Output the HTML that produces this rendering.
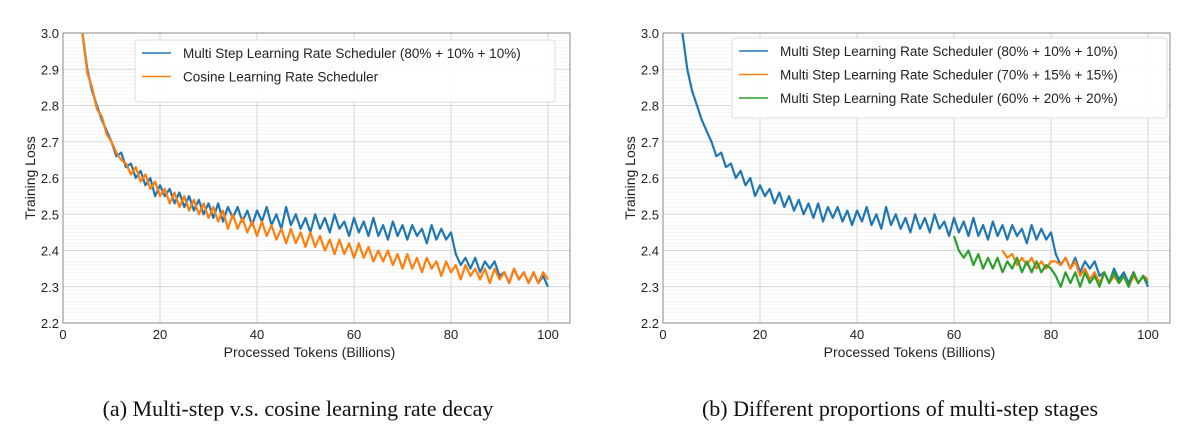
<!DOCTYPE html>
<html><head><meta charset="utf-8"><style>
body{margin:0;background:#fff;width:1200px;height:446px;overflow:hidden}
svg{display:block}
text{font-family:"Liberation Sans",sans-serif;fill:#222}
.cap{font-family:"Liberation Serif",serif;font-size:22px;fill:#111}
</style></head><body>
<svg id="s" width="1200" height="446"></svg>
<script>
const xTicks=[0,20,40,60,80,100];
const yTicks=[2.2,2.3,2.4,2.5,2.6,2.7,2.8,2.9,3.0];
const tokensA=[];for(let t=4;t<=100;t++)tokensA.push(t);
const multi80=[3.00,2.90,2.84,2.80,2.76,2.73,2.70,2.66,2.67,2.63,2.64,2.60,2.62,2.58,2.60,2.55,2.58,2.55,2.57,2.53,2.56,2.52,2.55,2.51,2.54,2.50,2.53,2.49,2.53,2.48,2.52,2.49,2.52,2.48,2.51,2.47,2.51,2.48,2.52,2.47,2.50,2.46,2.52,2.47,2.50,2.46,2.49,2.45,2.50,2.46,2.49,2.45,2.50,2.46,2.48,2.44,2.49,2.45,2.48,2.44,2.49,2.44,2.47,2.43,2.48,2.44,2.47,2.43,2.47,2.44,2.46,2.42,2.47,2.43,2.46,2.43,2.45,2.39,2.36,2.38,2.35,2.38,2.34,2.37,2.35,2.37,2.33,2.34,2.31,2.35,2.32,2.34,2.31,2.34,2.31,2.33,2.30];
const cosine=[3.00,2.89,2.85,2.79,2.77,2.72,2.70,2.67,2.65,2.64,2.61,2.63,2.59,2.61,2.57,2.59,2.55,2.57,2.53,2.56,2.52,2.55,2.51,2.54,2.50,2.53,2.49,2.52,2.48,2.51,2.46,2.50,2.46,2.49,2.45,2.48,2.44,2.48,2.44,2.47,2.43,2.46,2.42,2.46,2.42,2.45,2.41,2.45,2.41,2.44,2.40,2.43,2.39,2.43,2.39,2.42,2.38,2.42,2.38,2.41,2.37,2.40,2.37,2.40,2.36,2.39,2.35,2.39,2.35,2.38,2.34,2.38,2.35,2.37,2.33,2.37,2.34,2.36,2.32,2.36,2.33,2.35,2.32,2.35,2.31,2.35,2.32,2.34,2.31,2.35,2.32,2.34,2.31,2.34,2.31,2.34,2.32];
const tokens70=[];for(let t=70;t<=100;t++)tokens70.push(t);
const multi70=[2.40,2.38,2.39,2.36,2.38,2.36,2.38,2.35,2.37,2.35,2.37,2.37,2.36,2.38,2.35,2.37,2.33,2.35,2.32,2.34,2.31,2.34,2.31,2.33,2.31,2.33,2.30,2.33,2.31,2.33,2.32];
const tokens60=[];for(let t=60;t<=100;t++)tokens60.push(t);
const multi60=[2.44,2.40,2.38,2.40,2.36,2.39,2.35,2.38,2.35,2.38,2.34,2.37,2.35,2.38,2.34,2.37,2.34,2.37,2.34,2.36,2.35,2.33,2.30,2.34,2.31,2.34,2.30,2.34,2.31,2.33,2.30,2.34,2.31,2.34,2.31,2.33,2.30,2.34,2.31,2.33,2.31];

const NS="http://www.w3.org/2000/svg";
const svg=document.getElementById('s');
function mk(tag,at,parent){const e=document.createElementNS(NS,tag);for(const k in at)e.setAttribute(k,at[k]);(parent||svg).appendChild(e);return e;}

function chart(ox,name,series,legend,legBox){
  const L=ox,R=ox+507,T=33,B=323;
  const sx=v=>L+v*(485/100);
  const sy=v=>B-(v-2.2)/0.8*(B-T);
  const g=mk('g',{});
  
  
  for(let v=2.2;v<=3.0001;v+=0.01){mk('line',{x1:L,x2:R,y1:sy(v),y2:sy(v),stroke:'#eee','stroke-width':0.6},g);}
  yTicks.forEach(v=>{
    mk('line',{x1:L,x2:R,y1:sy(v),y2:sy(v),stroke:'#d6d6d6','stroke-width':1},g);
    const t=mk('text',{x:L-4,y:sy(v)+5,'text-anchor':'end','font-size':13},g);t.textContent=v.toFixed(1);
    
    
  });
  xTicks.forEach(v=>{
    mk('line',{x1:sx(v),x2:sx(v),y1:T,y2:B,stroke:'#d6d6d6','stroke-width':1},g);
    const t=mk('text',{x:sx(v),y:B+16,'text-anchor':'middle','font-size':13},g);t.textContent=v;
    
    
  });
  series.forEach(s=>{
    const pts=s.x.map((x,i)=>sx(x).toFixed(1)+','+sy(s.y[i]).toFixed(1)).join(' ');
    const p=mk('polyline',{points:pts,fill:'none',stroke:s.c,'stroke-width':2.2,'stroke-linejoin':'round'},g);
    
    
  });
  mk('rect',{x:L,y:T,width:R-L,height:B-T,fill:'none',stroke:'#888','stroke-width':1},g);
  const xl=mk('text',{x:(L+R)/2-7,y:357,'text-anchor':'middle','font-size':14},g);xl.textContent='Processed Tokens (Billions)';
  
  
  const yl=mk('text',{x:0,y:0,'text-anchor':'middle','font-size':14,transform:`translate(${L-28},178) rotate(-90)`},g);yl.textContent='Training Loss';
  
  
  const lg=mk('g',{},g);
  
  
  mk('rect',{x:legBox[0],y:legBox[1],width:legBox[2],height:legBox[3],rx:3,fill:'#fff','fill-opacity':0.9,stroke:'#ddd'},lg);
  legend.forEach((e,i)=>{
    const y=legBox[1]+17+i*23.5;
    mk('line',{x1:legBox[0]+7,x2:legBox[0]+36,y1:y-4,y2:y-4,stroke:e.c,'stroke-width':1.5},lg);
    const t=mk('text',{x:legBox[0]+48,y:y+1,'font-size':13.5},lg);t.textContent=e.t;
    
    
  });
}
const BL='#1f77b4',OR='#ff7f0e',GR='#2ca02c';
chart(63,'chart-a',[{x:tokensA,y:multi80,c:BL,n:'multi-step-line'},{x:tokensA,y:cosine,c:OR,n:'cosine-line'}],
  [{c:BL,t:'Multi Step Learning Rate Scheduler (80% + 10% + 10%)'},{c:OR,t:'Cosine Learning Rate Scheduler'}],[135,40,420,62]);
chart(663,'chart-b',[{x:tokensA,y:multi80,c:BL,n:'multi-step-80-line'},{x:tokens70,y:multi70,c:OR,n:'multi-step-70-line'},{x:tokens60,y:multi60,c:GR,n:'multi-step-60-line'}],
  [{c:BL,t:'Multi Step Learning Rate Scheduler (80% + 10% + 10%)'},{c:OR,t:'Multi Step Learning Rate Scheduler (70% + 15% + 15%)'},{c:GR,t:'Multi Step Learning Rate Scheduler (60% + 20% + 20%)'}],[732,38,435,80]);
const c1=mk('text',{x:298,y:416,'text-anchor':'middle',class:'cap'});c1.textContent='(a)  Multi-step v.s. cosine learning rate decay';


const c2=mk('text',{x:900,y:416,'text-anchor':'middle',class:'cap'});c2.textContent='(b)  Different proportions of multi-step stages';


</script>
</body></html>
